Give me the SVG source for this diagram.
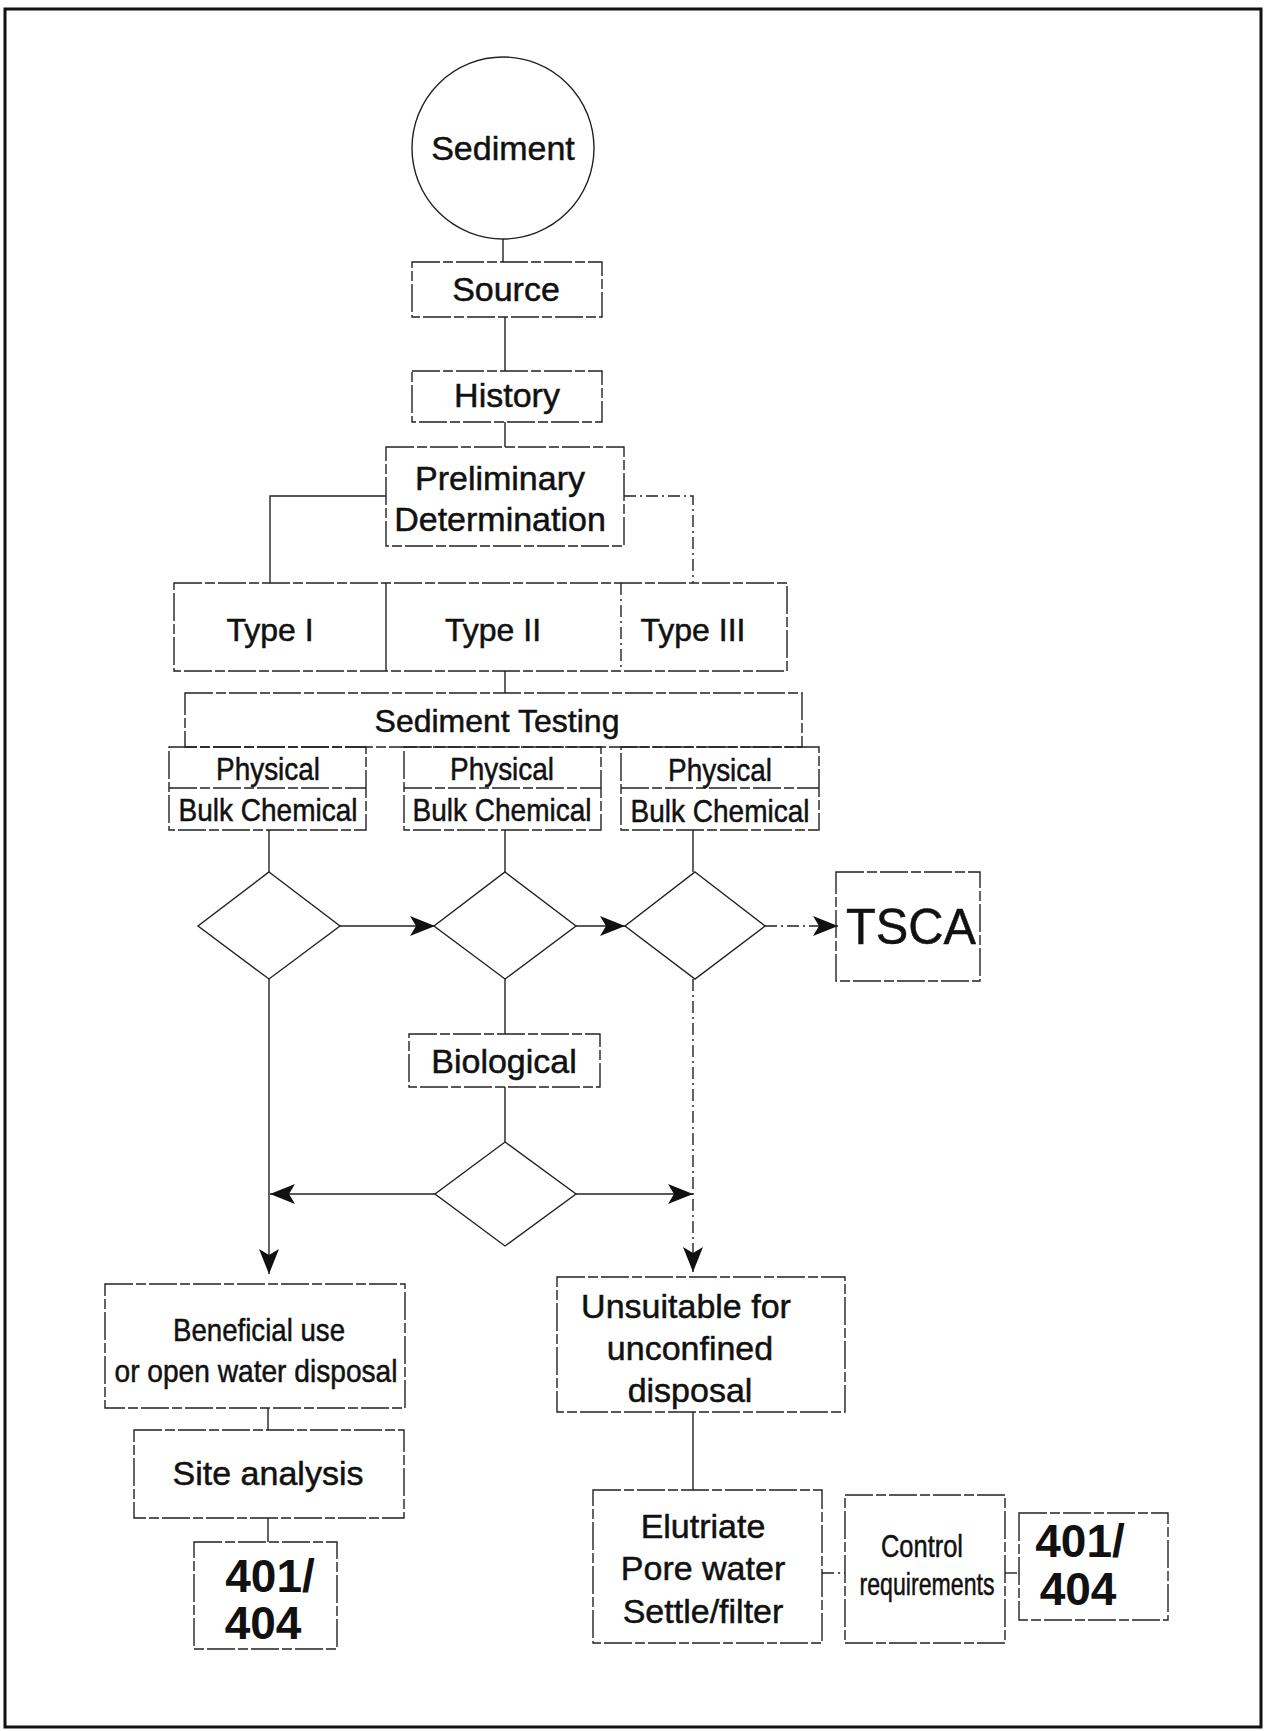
<svg xmlns="http://www.w3.org/2000/svg" width="1267" height="1731" viewBox="0 0 1267 1731">
  <defs>
    <marker id="arrow" markerUnits="userSpaceOnUse" markerWidth="26" markerHeight="22" refX="25" refY="11" orient="auto">
      <path d="M0,1 L25,11 L0,21 L6,11 Z" fill="#111"/>
    </marker>
    <style>
      text { font-family: "Liberation Sans", Arial, sans-serif; fill: #111; stroke: #111; stroke-width: 0.5; text-anchor: middle; }
      .frame { fill: none; stroke: #111; stroke-width: 3; }
      .box { fill: none; stroke: #222; stroke-width: 1.4; stroke-dasharray: 28 3 10 3; }
      .solid { fill: none; stroke: #222; stroke-width: 1.4; }
      .ln { fill: none; stroke: #222; stroke-width: 1.4; }
      .dl { fill: none; stroke: #222; stroke-width: 1.4; stroke-dasharray: 12 4 2 4; }
      .t34 { font-size: 34px; }
      .t32 { font-size: 32px; }
      .narrow { font-size: 32px; }
      .big { font-size: 46px; font-weight: bold; stroke-width: 0; }
    </style>
  </defs>

  <rect class="frame" x="5" y="9" width="1256" height="1718"/>

  <!-- connectors -->
  <g id="connectors">
    <line class="ln" x1="503" y1="239" x2="503" y2="262"/>
    <line class="ln" x1="505" y1="317" x2="505" y2="371"/>
    <line class="ln" x1="505" y1="422" x2="505" y2="447"/>
    <path class="ln" d="M386,496 H270 V583"/>
    <path class="dl" d="M624,496 H693 V583"/>
    <line class="ln" x1="505" y1="671" x2="505" y2="693"/>
    <line class="ln" x1="269" y1="830" x2="269" y2="872"/>
    <line class="ln" x1="505" y1="830" x2="505" y2="872"/>
    <line class="ln" x1="693" y1="830" x2="693" y2="872"/>
    <line class="ln" x1="340" y1="926" x2="435" y2="926" marker-end="url(#arrow)"/>
    <line class="ln" x1="576" y1="926" x2="625" y2="926" marker-end="url(#arrow)"/>
    <line class="dl" x1="765" y1="926" x2="838" y2="926" marker-end="url(#arrow)"/>
    <line class="ln" x1="269" y1="979" x2="269" y2="1274" marker-end="url(#arrow)"/>
    <line class="ln" x1="505" y1="979" x2="505" y2="1034"/>
    <line class="ln" x1="505" y1="1087" x2="505" y2="1142"/>
    <line class="ln" x1="435" y1="1194" x2="270" y2="1194" marker-end="url(#arrow)"/>
    <line class="ln" x1="576" y1="1194" x2="693" y2="1194" marker-end="url(#arrow)"/>
    <line class="dl" x1="693" y1="979" x2="693" y2="1272" marker-end="url(#arrow)"/>
    <line class="ln" x1="268" y1="1408" x2="268" y2="1430"/>
    <line class="ln" x1="268" y1="1518" x2="268" y2="1542"/>
    <line class="ln" x1="693" y1="1412" x2="693" y2="1490"/>
    <line class="dl" x1="822" y1="1573" x2="845" y2="1573"/>
    <line class="dl" x1="1005" y1="1573" x2="1019" y2="1573"/>
  </g>

  <g id="sediment">
    <circle class="solid" cx="503" cy="148" r="91"/>
    <text class="t34" x="503" y="160">Sediment</text>
  </g>

  <g id="source">
    <rect class="box" x="412" y="262" width="190" height="55"/>
    <text class="t34" x="506" y="301">Source</text>
  </g>

  <g id="history">
    <rect class="box" x="412" y="371" width="190" height="51"/>
    <text class="t34" x="507" y="407">History</text>
  </g>

  <g id="preliminary">
    <rect class="box" x="386" y="447" width="238" height="99"/>
    <text class="t34" x="500" y="490">Preliminary</text>
    <text class="t34" x="500" y="531">Determination</text>
  </g>

  <g id="types">
    <rect class="box" x="174" y="583" width="613" height="88"/>
    <line class="ln" x1="386" y1="583" x2="386" y2="671"/>
    <line class="dl" x1="621" y1="583" x2="621" y2="671"/>
    <text class="t32" x="270" y="641">Type I</text>
    <text class="t32" x="493" y="641">Type II</text>
    <text class="t32" x="693" y="641">Type III</text>
  </g>

  <g id="sediment-testing">
    <rect class="box" x="185" y="693" width="617" height="54"/>
    <text class="t32" x="497" y="732">Sediment Testing</text>
  </g>

  <g id="tests-1">
    <rect class="box" x="169" y="747" width="197" height="83"/>
    <line class="box" x1="169" y1="788" x2="366" y2="788"/>
    <text class="narrow" x="268" y="780" textLength="104" lengthAdjust="spacingAndGlyphs">Physical</text>
    <text class="narrow" x="268" y="821" textLength="179" lengthAdjust="spacingAndGlyphs">Bulk Chemical</text>
  </g>

  <g id="tests-2">
    <rect class="box" x="404" y="747" width="197" height="83"/>
    <line class="box" x1="404" y1="788" x2="601" y2="788"/>
    <text class="narrow" x="502" y="780" textLength="104" lengthAdjust="spacingAndGlyphs">Physical</text>
    <text class="narrow" x="502" y="821" textLength="179" lengthAdjust="spacingAndGlyphs">Bulk Chemical</text>
  </g>

  <g id="tests-3">
    <rect class="box" x="621" y="747" width="198" height="83"/>
    <line class="box" x1="621" y1="788" x2="819" y2="788"/>
    <text class="narrow" x="720" y="781" textLength="104" lengthAdjust="spacingAndGlyphs">Physical</text>
    <text class="narrow" x="720" y="822" textLength="179" lengthAdjust="spacingAndGlyphs">Bulk Chemical</text>
  </g>

  <g id="decision-1"><polygon class="solid" points="269,872 340,926 269,979 198,926"/></g>
  <g id="decision-2"><polygon class="solid" points="505,872 576,926 505,979 434,926"/></g>
  <g id="decision-3"><polygon class="solid" points="695,872 765,926 695,979 625,926"/></g>

  <g id="tsca">
    <rect class="box" x="836" y="872" width="144" height="109"/>
    <text x="911" y="944" font-size="50" textLength="130" lengthAdjust="spacingAndGlyphs">TSCA</text>
  </g>

  <g id="biological">
    <rect class="box" x="409" y="1034" width="191" height="53"/>
    <text class="t34" x="504" y="1073">Biological</text>
  </g>

  <g id="decision-4"><polygon class="solid" points="505,1142 576,1194 505,1246 435,1194"/></g>

  <g id="beneficial-use">
    <rect class="box" x="105" y="1284" width="300" height="124"/>
    <text class="narrow" x="259" y="1341" textLength="172" lengthAdjust="spacingAndGlyphs">Beneficial use</text>
    <text class="narrow" x="256" y="1382" textLength="283" lengthAdjust="spacingAndGlyphs">or open water disposal</text>
  </g>

  <g id="site-analysis">
    <rect class="box" x="134" y="1430" width="270" height="88"/>
    <text class="t34" x="268" y="1485">Site analysis</text>
  </g>

  <g id="permit-left">
    <rect class="box" x="194" y="1542" width="143" height="107"/>
    <text class="big" x="270" y="1592">401/</text>
    <text class="big" x="263" y="1639">404</text>
  </g>

  <g id="unsuitable">
    <rect class="box" x="557" y="1277" width="288" height="135"/>
    <text class="t34" x="686" y="1318">Unsuitable for</text>
    <text class="t34" x="690" y="1360">unconfined</text>
    <text class="t34" x="690" y="1402">disposal</text>
  </g>

  <g id="elutriate">
    <rect class="box" x="593" y="1490" width="229" height="153"/>
    <text class="t34" x="703" y="1538">Elutriate</text>
    <text class="t34" x="703" y="1580">Pore water</text>
    <text class="t34" x="703" y="1623">Settle/filter</text>
  </g>

  <g id="control">
    <rect class="box" x="845" y="1495" width="160" height="148"/>
    <text x="922" y="1557" font-size="32" textLength="82" lengthAdjust="spacingAndGlyphs">Control</text>
    <text x="927" y="1595" font-size="32" textLength="135" lengthAdjust="spacingAndGlyphs">requirements</text>
  </g>

  <g id="permit-right">
    <rect class="box" x="1019" y="1513" width="149" height="107"/>
    <text class="big" x="1080" y="1557">401/</text>
    <text class="big" x="1078" y="1605">404</text>
  </g>
</svg>
